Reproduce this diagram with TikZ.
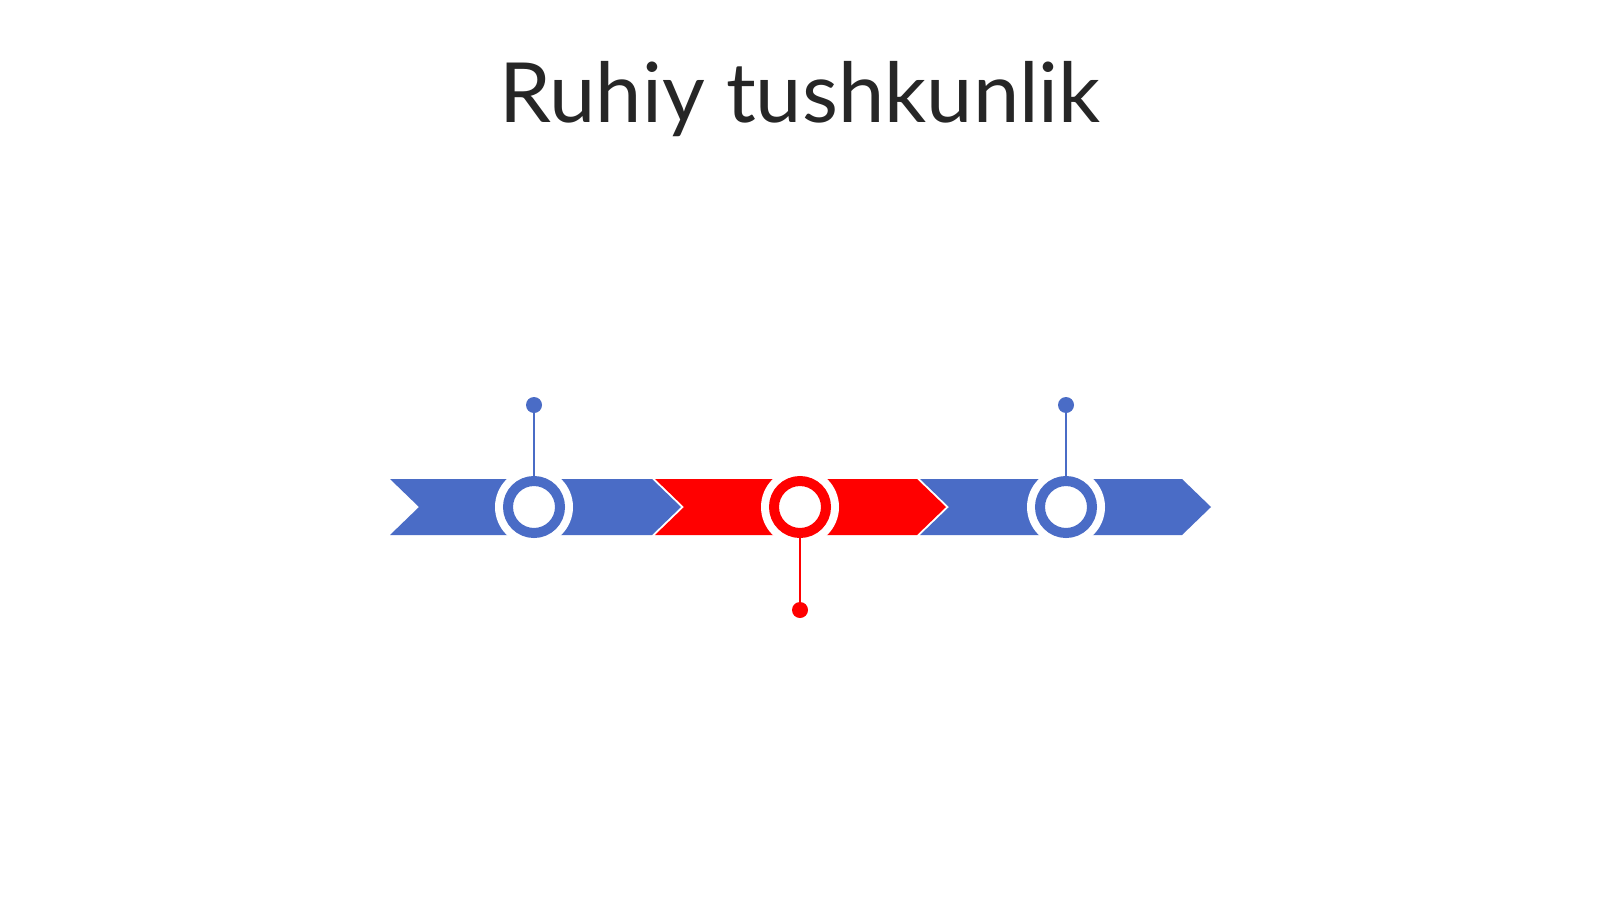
\documentclass[tikz,border=0pt]{standalone}
\usepackage{fontspec}
\setmainfont{Lato}
\definecolor{tlblue}{HTML}{4A6CC6}
\definecolor{tlred}{HTML}{FF0000}
\definecolor{titlegray}{HTML}{262626}
\begin{document}
\begin{tikzpicture}[x=1pt,y=-1pt,
  chev/.style={fill=#1, draw=none},
  halo/.style={circle, fill=white, minimum size=78pt, inner sep=0pt},
  ring/.style={circle, draw=#1, line width=10pt, fill=white, minimum size=52pt, inner sep=0pt},
  pin/.style={circle, fill=#1, minimum size=16pt, inner sep=0pt},
  stem/.style={draw=#1, line width=2.6pt}]
\useasboundingbox (0,0) rectangle (1600,899);
\fill[white] (0,0) rectangle (1600,899);
\node[font=\fontsize{83}{98}\selectfont, text=titlegray, anchor=base] (title) at (800,122) {Ruhiy tushkunlik};
% chevrons
\foreach \x/\c in {390/tlblue, 655/tlred, 920/tlblue}{
  \path[chev=\c] (\x,479) -- ++(262,0) -- ++(29,28) -- ++(-29,28) -- ++(-262,0) -- ++(29,-28) -- cycle;
}
% halos and rings
\node[halo] (h1) at (534,507) {};
\node[halo] (h2) at (800,507) {};
\node[halo] (h3) at (1066,507) {};
\node[ring=tlblue] (c1) at (534,507) {};
\node[ring=tlred] (c2) at (800,507) {};
\node[ring=tlblue] (c3) at (1066,507) {};
% pins
\node[pin=tlblue] (p1) at (534,405) {};
\node[pin=tlred] (p2) at (800,610) {};
\node[pin=tlblue] (p3) at (1066,405) {};
\draw[stem=tlblue] (p1) -- (c1.north);
\draw[stem=tlred] (p2) -- (c2.south);
\draw[stem=tlblue] (p3) -- (c3.north);
\end{tikzpicture}
\end{document}
